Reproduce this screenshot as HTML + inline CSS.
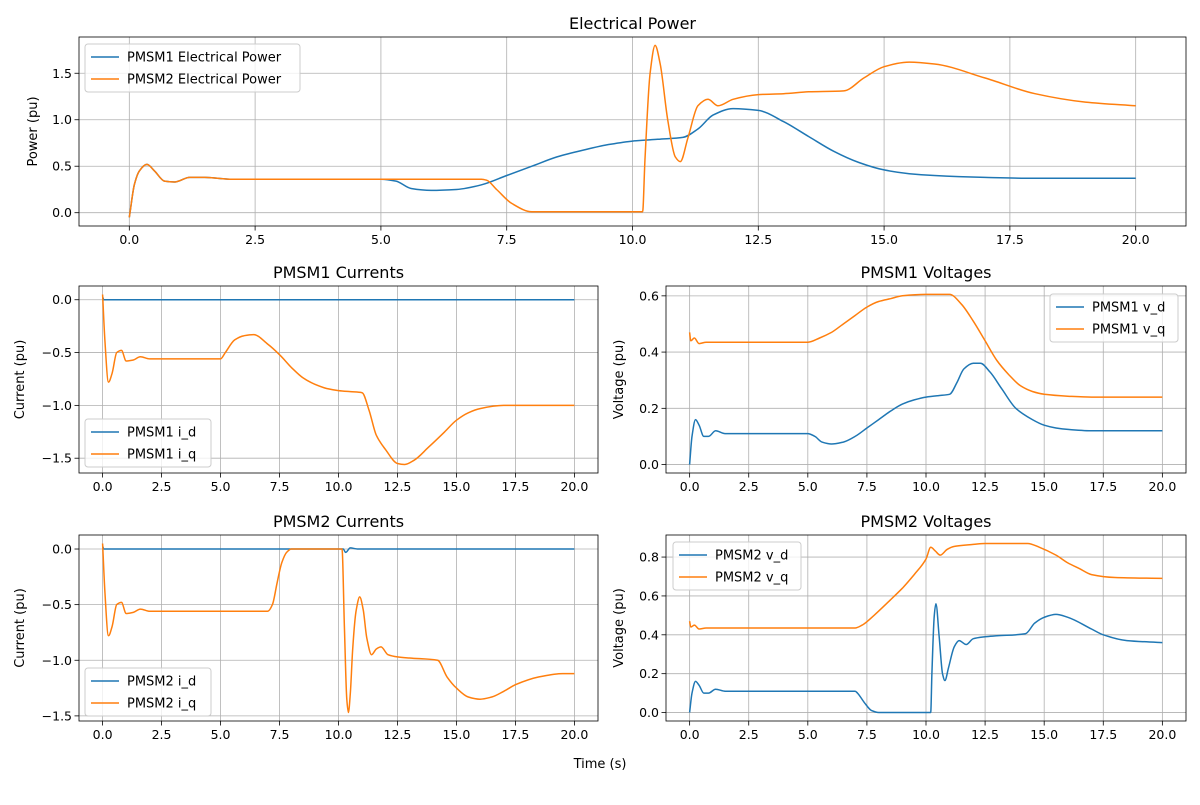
<!DOCTYPE html>
<html><head><meta charset="utf-8"><style>
body{margin:0;background:#fff;font-family:"Liberation Sans","DejaVu Sans",sans-serif}
svg text{font-family:"DejaVu Sans","Liberation Sans",sans-serif}
</style></head><body>
<svg id="fig" width="1200" height="800" viewBox="0 0 1200 800" xmlns="http://www.w3.org/2000/svg">
<rect width="1200" height="800" fill="#fff"/>
<text x="600" y="768" font-size="13" text-anchor="middle">Time (s)</text>
</svg>
<script>
const xTicks=[0,2.5,5,7.5,10,12.5,15,17.5,20];
const xTickLabels=["0.0","2.5","5.0","7.5","10.0","12.5","15.0","17.5","20.0"];
// Electrical power
const p1T=[0,0.1,0.2,0.35,0.5,0.7,0.9,1.2,1.5,2,3,4,5,5.3,5.6,6,6.5,7,7.5,8,8.5,9,9.5,10,10.5,11,11.3,11.6,12,12.5,13,13.5,14,14.5,15,15.5,16,17,18,20];
const p1V=[-0.05,0.3,0.45,0.52,0.45,0.34,0.33,0.38,0.38,0.36,0.36,0.36,0.36,0.34,0.26,0.24,0.25,0.3,0.4,0.5,0.6,0.67,0.73,0.77,0.79,0.81,0.9,1.05,1.12,1.1,0.98,0.82,0.66,0.54,0.46,0.42,0.4,0.38,0.37,0.37];
const p2T=[0,0.1,0.2,0.35,0.5,0.7,0.9,1.2,1.5,2,3,4,5,7,7.1,7.3,7.6,8,10.2,10.25,10.35,10.45,10.55,10.7,10.85,10.95,11.1,11.3,11.5,11.7,12,12.5,13,13.5,14.2,14.6,15,15.5,16,17,18,19,20];
const p2V=[-0.05,0.3,0.45,0.52,0.45,0.34,0.33,0.38,0.38,0.36,0.36,0.36,0.36,0.36,0.35,0.25,0.1,0.01,0.01,0.6,1.5,1.8,1.6,1.0,0.6,0.55,0.8,1.15,1.22,1.15,1.22,1.27,1.28,1.3,1.31,1.45,1.57,1.62,1.6,1.45,1.28,1.19,1.15];
// PMSM1 currents
const id1T=[0,0.05,20];
const id1V=[0.03,0,0];
const iq1T=[0,0.1,0.25,0.4,0.6,0.8,1,1.3,1.6,2,5,5.2,5.6,6,6.4,7,7.5,8,8.5,9,9.5,10,10.5,11,11.3,11.6,12,12.5,12.8,13.2,13.8,14.5,15,15.5,16,17,20];
const iq1V=[0.05,-0.4,-0.78,-0.7,-0.5,-0.48,-0.58,-0.57,-0.54,-0.56,-0.56,-0.5,-0.38,-0.34,-0.33,-0.42,-0.52,-0.64,-0.74,-0.8,-0.84,-0.86,-0.87,-0.88,-1.05,-1.28,-1.42,-1.55,-1.56,-1.52,-1.4,-1.25,-1.14,-1.07,-1.03,-1.0,-1.0];
// PMSM1 voltages
const vd1T=[0,0.1,0.25,0.4,0.6,0.8,1.1,1.5,2,5,5.3,5.6,6,6.5,7,7.5,8,8.5,9,9.5,10,10.5,11,11.3,11.6,12,12.3,12.7,13.2,13.8,14.5,15,15.5,16,17,20];
const vd1V=[0,0.1,0.16,0.14,0.1,0.1,0.12,0.11,0.11,0.11,0.1,0.08,0.073,0.08,0.1,0.13,0.16,0.19,0.215,0.23,0.24,0.245,0.25,0.29,0.34,0.36,0.36,0.33,0.27,0.2,0.16,0.14,0.13,0.125,0.12,0.12];
const vq1T=[0,0.05,0.2,0.4,0.7,1,5,5.5,6,6.5,7,7.5,8,8.5,9,10,11,11.5,12,12.5,13,13.5,14,14.5,15,16,17,20];
const vq1V=[0.47,0.44,0.45,0.43,0.435,0.435,0.435,0.45,0.47,0.5,0.53,0.56,0.58,0.59,0.6,0.605,0.605,0.57,0.51,0.44,0.37,0.32,0.28,0.26,0.25,0.243,0.24,0.24];
// PMSM2 currents
const id2T=[0,0.05,10.2,10.3,10.5,10.8,20];
const id2V=[0.03,0,0,-0.03,0.01,0,0];
const iq2T=[0,0.1,0.25,0.4,0.6,0.8,1,1.3,1.6,2,7,7.2,7.4,7.6,7.8,8,10.15,10.25,10.35,10.42,10.5,10.6,10.75,10.9,11.05,11.2,11.4,11.6,11.8,12.1,12.5,13,14.2,14.6,15,15.5,16,16.5,17,17.5,18.5,19.5,20];
const iq2V=[0.05,-0.4,-0.78,-0.7,-0.5,-0.48,-0.58,-0.57,-0.54,-0.56,-0.56,-0.5,-0.3,-0.12,-0.03,0,0,-0.7,-1.35,-1.47,-1.3,-0.9,-0.55,-0.43,-0.55,-0.8,-0.95,-0.9,-0.88,-0.95,-0.97,-0.98,-1.0,-1.15,-1.25,-1.33,-1.35,-1.33,-1.28,-1.22,-1.15,-1.12,-1.12];
// PMSM2 voltages
const vd2T=[0,0.1,0.25,0.4,0.6,0.8,1.1,1.5,2,7,7.1,7.4,7.7,8,10.2,10.25,10.35,10.42,10.55,10.7,10.8,10.95,11.2,11.4,11.7,12,12.5,13,14.2,14.6,15,15.5,16,17,17.5,18.5,20];
const vd2V=[0,0.1,0.16,0.14,0.1,0.1,0.12,0.11,0.11,0.11,0.1,0.05,0.01,0,0,0.2,0.5,0.56,0.4,0.2,0.165,0.23,0.34,0.37,0.35,0.38,0.39,0.395,0.405,0.46,0.49,0.505,0.49,0.43,0.4,0.37,0.36];
const vq2T=[0,0.05,0.2,0.4,0.7,7,7.3,7.8,8.5,9,9.5,10,10.2,10.4,10.6,10.9,11.2,12,12.5,14.3,14.8,15.5,16,16.5,17,18,20];
const vq2V=[0.47,0.44,0.45,0.43,0.435,0.435,0.45,0.5,0.58,0.64,0.71,0.79,0.85,0.83,0.81,0.84,0.855,0.865,0.87,0.87,0.85,0.81,0.77,0.74,0.71,0.695,0.69];

const NS="http://www.w3.org/2000/svg";
const svg=document.getElementById('fig');
function mk(tag,attrs,parent){const e=document.createElementNS(NS,tag);for(const k in attrs)e.setAttribute(k,attrs[k]);(parent||svg).appendChild(e);return e;}
const BLUE="#1f77b4",ORANGE="#ff7f0e";
function smoothPath(X,Y){
  const n=X.length;if(n<3)return 'M'+X.map((x,i)=>x.toFixed(1)+','+Y[i].toFixed(1)).join(' L');
  const d=[],m=new Array(n);
  for(let i=0;i<n-1;i++)d.push((Y[i+1]-Y[i])/(X[i+1]-X[i]));
  m[0]=d[0];m[n-1]=d[n-2];
  for(let i=1;i<n-1;i++){
    if(d[i-1]*d[i]<=0)m[i]=0;
    else{const w1=2*(X[i+1]-X[i])+(X[i]-X[i-1]),w2=(X[i+1]-X[i])+2*(X[i]-X[i-1]);m[i]=(w1+w2)/(w1/d[i-1]+w2/d[i]);}
  }
  let p='M'+X[0].toFixed(1)+','+Y[0].toFixed(1);
  for(let i=0;i<n-1;i++){
    const h=(X[i+1]-X[i])/3;
    p+=` C${(X[i]+h).toFixed(1)},${(Y[i]+m[i]*h).toFixed(1)} ${(X[i+1]-h).toFixed(1)},${(Y[i+1]-m[i+1]*h).toFixed(1)} ${X[i+1].toFixed(1)},${Y[i+1].toFixed(1)}`;
  }
  return p;
}
function plot(cfg){
  const g=mk('g',{});
  
  
  const {x0,y0,w,h,xmin,xmax,ymin,ymax}=cfg;
  const sx=v=>x0+(v-xmin)/(xmax-xmin)*w;
  const sy=v=>y0+h-(v-ymin)/(ymax-ymin)*h;
  xTicks.forEach((t,i)=>{
    const X=sx(t);
    const gl=mk('line',{x1:X,x2:X,y1:y0,y2:y0+h,stroke:'#b0b0b0','stroke-width':0.8},g);
    
    
    mk('line',{x1:X,x2:X,y1:y0+h,y2:y0+h+4.5,stroke:'#000','stroke-width':0.8},g);
    const tx=mk('text',{x:X,y:y0+h+18,'font-size':12.5,'text-anchor':'middle'},g);
    tx.textContent=xTickLabels[i];
    
    
  });
  cfg.yTicks.forEach((t,i)=>{
    const Y=sy(t);
    const gl=mk('line',{x1:x0,x2:x0+w,y1:Y,y2:Y,stroke:'#b0b0b0','stroke-width':0.8},g);
    
    
    mk('line',{x1:x0-4.5,x2:x0,y1:Y,y2:Y,stroke:'#000','stroke-width':0.8},g);
    const tx=mk('text',{x:x0-7,y:Y+4.5,'font-size':12.5,'text-anchor':'end'},g);
    tx.textContent=cfg.yTickLabels[i];
    
    
  });
  cfg.series.forEach(s=>{
    const pl=mk('path',{d:smoothPath(s.t.map(sx),s.v.map(sy)),fill:'none',stroke:s.color,'stroke-width':1.5,'stroke-linejoin':'round'},g);
    
    
  });
  const fr=mk('rect',{x:x0,y:y0,width:w,height:h,fill:'none',stroke:'#000','stroke-width':0.8},g);
  
  
  const ti=mk('text',{x:x0+w/2,y:y0-8,'font-size':16,'text-anchor':'middle'},g);
  ti.textContent=cfg.title;
  
  
  const yl=mk('text',{x:0,y:0,'font-size':13,'text-anchor':'middle',transform:`translate(${cfg.ylx},${y0+h/2}) rotate(-90)`},g);
  yl.textContent=cfg.ylabel;
  
  
  const L=cfg.legend;
  const lg=mk('g',{},g);
  
  
  mk('rect',{x:L.x,y:L.y,width:L.w,height:cfg.series.length*22+4,rx:3,fill:'#fff','fill-opacity':0.8,stroke:'#ccc'},lg);
  cfg.series.forEach((s,i)=>{
    const yy=L.y+13+i*22;
    mk('line',{x1:L.x+6,x2:L.x+34,y1:yy,y2:yy,stroke:s.color,'stroke-width':1.5},lg);
    const lt=mk('text',{x:L.x+42,y:yy+4.5,'font-size':13},lg);
    lt.textContent=s.label;
    
    
  });
}
plot({name:'electrical-power-chart',title:'Electrical Power',ylabel:'Power (pu)',ylx:37,x0:79,y0:37,w:1107,h:189,xmin:-1,xmax:21,ymin:-0.143,ymax:1.89,
  yTicks:[0,0.5,1,1.5],yTickLabels:["0.0","0.5","1.0","1.5"],legend:{x:85,y:44,w:215},
  series:[{id:'pmsm1-power-line',t:p1T,v:p1V,color:BLUE,label:'PMSM1 Electrical Power'},{id:'pmsm2-power-line',t:p2T,v:p2V,color:ORANGE,label:'PMSM2 Electrical Power'}]});
plot({name:'pmsm1-currents-chart',title:'PMSM1 Currents',ylabel:'Current (pu)',ylx:24,x0:79,y0:286,w:519,h:187,xmin:-1,xmax:21,ymin:-1.64,ymax:0.13,
  yTicks:[0,-0.5,-1,-1.5],yTickLabels:["0.0","−0.5","−1.0","−1.5"],legend:{x:85,y:419,w:126},
  series:[{id:'pmsm1-id-line',t:id1T,v:id1V,color:BLUE,label:'PMSM1 i_d'},{id:'pmsm1-iq-line',t:iq1T,v:iq1V,color:ORANGE,label:'PMSM1 i_q'}]});
plot({name:'pmsm1-voltages-chart',title:'PMSM1 Voltages',ylabel:'Voltage (pu)',ylx:623,x0:666,y0:286,w:520,h:187,xmin:-1,xmax:21,ymin:-0.03,ymax:0.635,
  yTicks:[0,0.2,0.4,0.6],yTickLabels:["0.0","0.2","0.4","0.6"],legend:{x:1050,y:294,w:128},
  series:[{id:'pmsm1-vd-line',t:vd1T,v:vd1V,color:BLUE,label:'PMSM1 v_d'},{id:'pmsm1-vq-line',t:vq1T,v:vq1V,color:ORANGE,label:'PMSM1 v_q'}]});
plot({name:'pmsm2-currents-chart',title:'PMSM2 Currents',ylabel:'Current (pu)',ylx:24,x0:79,y0:535,w:519,h:186,xmin:-1,xmax:21,ymin:-1.546,ymax:0.126,
  yTicks:[0,-0.5,-1,-1.5],yTickLabels:["0.0","−0.5","−1.0","−1.5"],legend:{x:85,y:668,w:126},
  series:[{id:'pmsm2-id-line',t:id2T,v:id2V,color:BLUE,label:'PMSM2 i_d'},{id:'pmsm2-iq-line',t:iq2T,v:iq2V,color:ORANGE,label:'PMSM2 i_q'}]});
plot({name:'pmsm2-voltages-chart',title:'PMSM2 Voltages',ylabel:'Voltage (pu)',ylx:623,x0:666,y0:535,w:520,h:186,xmin:-1,xmax:21,ymin:-0.0435,ymax:0.9135,
  yTicks:[0,0.2,0.4,0.6,0.8],yTickLabels:["0.0","0.2","0.4","0.6","0.8"],legend:{x:673,y:542,w:128},
  series:[{id:'pmsm2-vd-line',t:vd2T,v:vd2V,color:BLUE,label:'PMSM2 v_d'},{id:'pmsm2-vq-line',t:vq2T,v:vq2V,color:ORANGE,label:'PMSM2 v_q'}]});
</script>
</body></html>
